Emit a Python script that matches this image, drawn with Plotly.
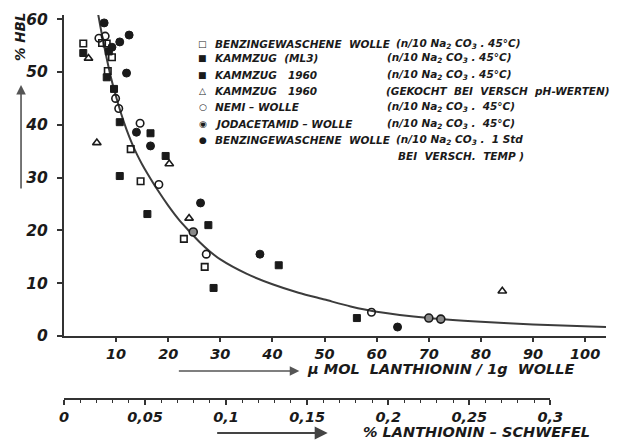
import plotly.graph_objects as go

# ---------------- data ----------------
benzin_x = [3.7, 7.3, 8.2, 9.2, 8.4, 12.8, 14.7, 23.0, 27.0]
benzin_y = [55.4, 55.5, 55.4, 52.8, 50.2, 35.4, 29.3, 18.4, 13.1]

ml3_x = [3.7, 8.2, 9.6]
ml3_y = [53.6, 49.0, 46.8]

kamm60_x = [5.2, 8.6, 10.7, 16.6, 19.5, 10.7, 16.0, 27.7, 28.7, 41.2, 56.2]
kamm60_y = [62.3, 53.9, 40.5, 38.4, 34.1, 30.3, 23.1, 21.0, 9.1, 13.4, 3.4]

gekocht_x = [4.7, 6.3, 20.2, 24.0, 84.1]
gekocht_y = [52.6, 36.6, 32.6, 22.3, 8.5]

nemi_x = [6.7, 7.9, 9.9, 10.5, 14.6, 18.2, 27.3, 59.0]
nemi_y = [56.4, 56.8, 45.0, 43.1, 40.3, 28.7, 15.5, 4.5]

jod_x = [24.8, 70.0, 72.3]
jod_y = [19.7, 3.4, 3.2]

std_x = [7.7, 12.5, 10.7, 9.2, 12.0, 13.9, 16.6, 26.2, 37.6, 64.0]
std_y = [59.3, 57.0, 55.7, 54.7, 49.8, 38.6, 36.0, 25.2, 15.5, 1.7]

curve_x = [6, 7, 8, 9, 10, 11, 12, 13, 14, 15, 16, 18, 20, 22, 24, 26, 28, 30,
           35, 40, 45, 50, 55, 60, 70, 80, 90, 104]
curve_y = [64, 58.5, 53.5, 49, 45.3, 42.0, 39.1, 36.6, 34.4, 32.5, 30.8, 27.6,
           24.7, 22.1, 19.9, 17.8, 16.0, 14.5, 11.8, 9.8, 8.2, 6.9, 5.6, 4.6,
           3.4, 2.7, 2.2, 1.7]

x_ticks = [10, 20, 30, 40, 50, 60, 70, 80, 90, 100]
y_ticks = [0, 10, 20, 30, 40, 50, 60]
s_ticks = [0, 0.05, 0.1, 0.15, 0.2, 0.25, 0.3]
s_ticktext = ["0", "0,05", "0,1", "0,15", "0,2", "0,25", "0,3"]

legend_names = [
    "BENZINGEWASCHENE  WOLLE",
    "KAMMZUG  (ML3)",
    "KAMMZUG   1960",
    "KAMMZUG   1960",
    "NEMI – WOLLE",
    "JODACETAMID – WOLLE",
    "BENZINGEWASCHENE  WOLLE",
]
legend_cond = [
    "(n/10 Na<sub>2</sub> CO<sub>3</sub> . 45°C)",
    "(n/10 Na<sub>2</sub> CO<sub>3</sub> . 45°C)",
    "(n/10 Na<sub>2</sub> CO<sub>3</sub> . 45°C)",
    "(GEKOCHT  BEI  VERSCH  pH-WERTEN)",
    "(n/10 Na<sub>2</sub> CO<sub>3</sub> .  45°C)",
    "(n/10 Na<sub>2</sub> CO<sub>3</sub> .  45°C)",
    "(n/10 Na<sub>2</sub> CO<sub>3</sub> .  1 Std",
]
legend_glyphs = ["□", "■", "■", "△", "○", "◉", "●"]

# ---------------- figure ----------------
W, H = 627, 441
ML, MR, MT, MB = 64, 8, 15, 43
PW, PH = W - ML - MR, H - MT - MB


def px(x):
    return (x - ML) / PW


def py(y):
    return (H - MB - y) / PH


FONT = "DejaVu Sans"
INK = "#1a1a1a"

fig = go.Figure()

fig.add_trace(go.Scatter(x=curve_x, y=curve_y, mode="lines",
                         line=dict(color="#3c3c3c", width=2, shape="spline", smoothing=0.8),
                         hoverinfo="skip", showlegend=False, cliponaxis=False))


def pts(xs, ys, symbol, fill, size=7, lw=1.6):
    fig.add_trace(go.Scatter(x=xs, y=ys, mode="markers", showlegend=False,
                             cliponaxis=False,
                             marker=dict(symbol=symbol, size=size, color=fill,
                                         line=dict(color=INK, width=lw))))


pts(benzin_x, benzin_y, "square-open", INK, 6.5)
pts(ml3_x, ml3_y, "square", INK, 7, 1)
pts(kamm60_x, kamm60_y, "square", INK, 7, 1)
pts(gekocht_x, gekocht_y, "triangle-up-open", INK, 7.5)
pts(nemi_x, nemi_y, "circle-open", INK, 7.5)
pts(jod_x, jod_y, "circle", "#8a8a8a", 8, 1.6)
pts(std_x, std_y, "circle", INK, 8, 1)

# secondary axis placeholder trace
fig.add_trace(go.Scatter(x=[], y=[], xaxis="x2", yaxis="y2", showlegend=False))

tickfont = dict(family=FONT, size=14.5, color=INK, weight="bold", style="italic")

fig.update_layout(
    width=W, height=H,
    margin=dict(l=ML, r=MR, t=MT, b=MB),
    paper_bgcolor="white", plot_bgcolor="white",
    showlegend=False,
    xaxis=dict(range=[0, 104], domain=[0, 1], anchor="y",
               showline=True, linecolor="#333", linewidth=2,
               ticks="outside", ticklen=4, tickwidth=2, tickcolor="#333",
               tickvals=x_ticks, tickfont=tickfont,
               showgrid=False, zeroline=False),
    yaxis=dict(range=[0, 60.8], domain=[(H - MB - 336) / PH, 1], anchor="x",
               showline=True, linecolor="#333", linewidth=2,
               ticks="outside", ticklen=5, tickwidth=2, tickcolor="#333",
               tickvals=y_ticks, tickfont=dict(tickfont, size=15.5),
               ticklabelstandoff=6,
               showgrid=False, zeroline=False),
    xaxis2=dict(range=[0, 0.3], domain=[0, (562 - ML) / PW], anchor="y2",
                showline=True, linecolor="#333", linewidth=1.6,
                ticks="outside", ticklen=5, tickwidth=1.6, tickcolor="#333",
                tickvals=s_ticks, ticktext=s_ticktext, tickfont=tickfont,
                minor=dict(dtick=0.01, ticks="outside", ticklen=3, tickwidth=1.2,
                           tickcolor="#333", showgrid=False),
                showgrid=False, zeroline=False),
    yaxis2=dict(domain=[0, 0.002], anchor="x2", visible=False, range=[0, 1]),
)

ann_font = dict(family=FONT, size=10.5, color=INK, weight="bold", style="italic")
rows_y = [44, 58, 75, 91, 107, 124, 140]
cond_x = [402, 393, 393, 392, 393, 393, 402]
anns = []
for i, (g, n, c) in enumerate(zip(legend_glyphs, legend_names, legend_cond)):
    yy = py(rows_y[i])
    anns.append(dict(x=px(206), y=yy, xref="paper", yref="paper", text=g,
                     showarrow=False, xanchor="center", yanchor="middle",
                     font=dict(ann_font, size=9, weight="normal", style="normal")))
    anns.append(dict(x=px(217), y=yy, xref="paper", yref="paper", text=n,
                     showarrow=False, xanchor="left", yanchor="middle", font=ann_font))
    anns.append(dict(x=px(cond_x[i]), y=yy, xref="paper", yref="paper", text=c,
                     showarrow=False, xanchor="left", yanchor="middle", font=ann_font))
anns.append(dict(x=px(404), y=py(156), xref="paper", yref="paper",
                 text="BEI  VERSCH.  TEMP )", showarrow=False,
                 xanchor="left", yanchor="middle", font=ann_font))

title_font = dict(family=FONT, size=14.5, color=INK, weight="bold", style="italic")
anns += [
    dict(x=px(311), y=py(369), xref="paper", yref="paper",
         text="μ MOL  LANTHIONIN / 1g  WOLLE", showarrow=False,
         xanchor="left", yanchor="middle", font=title_font),
    dict(x=px(305), y=py(371), xref="paper", yref="paper", text="",
         showarrow=True, ax=-122, ay=0, arrowhead=2, arrowsize=1.2,
         arrowwidth=1.6, arrowcolor="#555"),
    dict(x=px(368), y=py(432), xref="paper", yref="paper",
         text="% LANTHIONIN – SCHWEFEL", showarrow=False,
         xanchor="left", yanchor="middle", font=title_font),
    dict(x=px(334), y=py(433), xref="paper", yref="paper", text="",
         showarrow=True, ax=-112, ay=0, arrowhead=2, arrowsize=1.3,
         arrowwidth=2, arrowcolor="#444"),
    dict(x=px(19), y=py(37), xref="paper", yref="paper", text="% HBL",
         showarrow=False, textangle=-90, xanchor="center", yanchor="middle",
         font=dict(title_font, size=13.5)),
    dict(x=px(20), y=py(85), xref="paper", yref="paper", text="",
         showarrow=True, ax=0, ay=105, arrowhead=2, arrowsize=1.2,
         arrowwidth=1.6, arrowcolor="#555"),
]
fig.update_layout(annotations=anns)

fig.write_html("out.html")
